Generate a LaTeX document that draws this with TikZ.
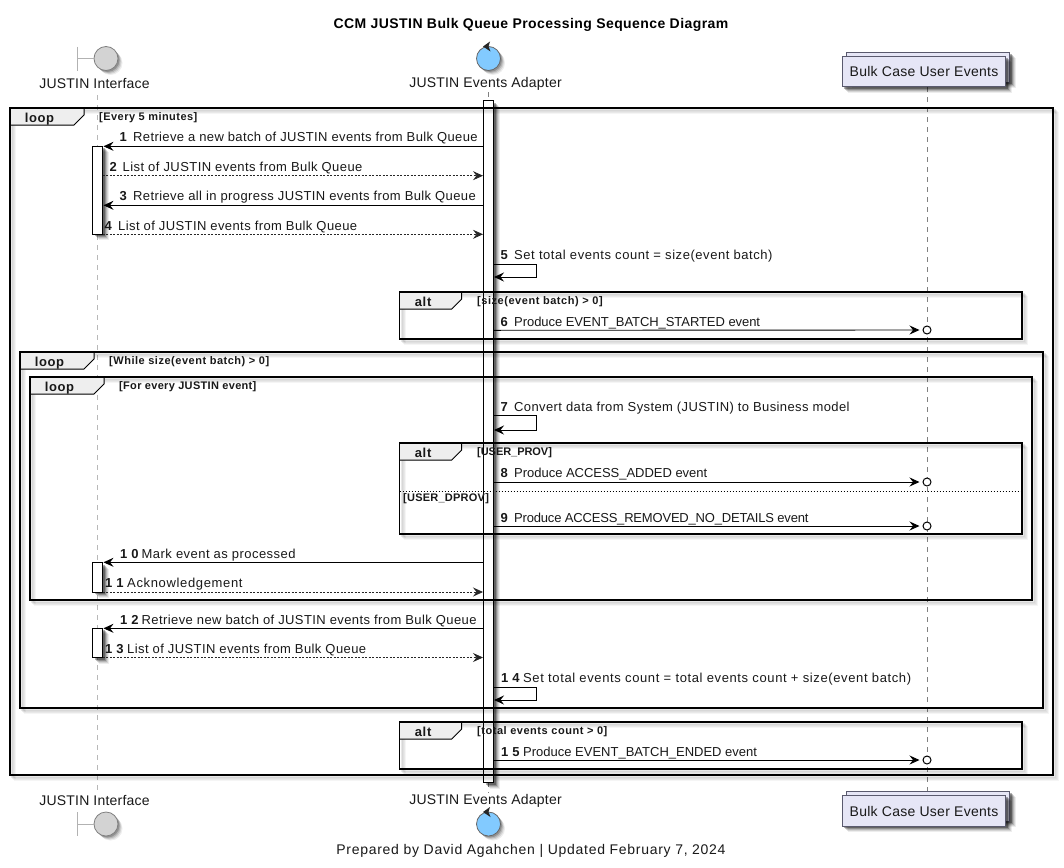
\documentclass[tikz,border=0pt]{standalone}
\usepackage{fontspec}
\setmainfont{Liberation Sans}
\usetikzlibrary{arrows.meta,calc}
\definecolor{tabfill}{HTML}{EEEEEE}
\definecolor{partfill}{HTML}{E6E6F6}
\definecolor{partdraw}{HTML}{5A5A6E}
\definecolor{ctrlfill}{HTML}{82CAFF}
\definecolor{bndfill}{HTML}{D3D3D3}
\newcommand\ls[1]{\addfontfeature{LetterSpace=#1}}
\tikzset{
  x=1pt,y=-1pt,
  lifegray/.style={draw=black!28,line width=1pt,dash pattern=on 5pt off 5pt},
  lifedark/.style={draw=black!50,line width=.8pt,dash pattern=on 5pt off 5pt},
  msgtext/.style={font=\fontsize{13}{14}\selectfont\ls{2.5},inner sep=0pt,anchor=base west,text=black!90},
  plabel/.style={font=\fontsize{14}{15}\selectfont\ls{1.5},inner sep=0pt,text=black!90},
  guardtext/.style={font=\fontsize{11}{12}\selectfont\bfseries\ls{3.7},inner sep=0pt,anchor=base west,text=black!90},
  tablabel/.style={font=\fontsize{13}{14}\selectfont\bfseries\ls{5},inner sep=0pt,anchor=base,text=black!90},
  solidmsg/.style={draw=black,line width=.9pt,-{Stealth[length=10pt,width=9pt,inset=3.5pt]}},
  dashmsg/.style={draw=black!85,line width=.8pt,dash pattern=on 2pt off 1.5pt,-{Stealth[length=10pt,width=9pt,inset=3.5pt,sep=0pt]}},
  partbox/.style={draw=partdraw,fill=partfill,line width=.9pt,inner sep=0pt,font=\fontsize{14}{15}\selectfont\ls{2},text=black!90},
  bar/.style={draw=black,fill=white,line width=.9pt},
  endcircle/.style={circle,draw=black,fill=white,line width=1pt,minimum size=8pt,inner sep=0pt},
}
% soft shadow behind a filled rectangle
\newcommand\softrect[4]{%
  \foreach \o/\a in {6/.07,5/.1,4/.14,3/.22,2/.3}{
    \fill[black,opacity=\a] ({#1+\o},{#2+\o}) rectangle ({#3+\o},{#4+\o});}}
% soft shadow of a circle
\newcommand\softcirc[3]{%
  \foreach \o/\a in {4.5/.07,3.5/.1,2.5/.14,1.5/.2}{
    \fill[black,opacity=\a] ({#1+\o},{#2+\o}) circle (#3);}}
% combined fragment: name, x1,y1,x2,y2, tab right, tab label, guard, guard x
\newcommand\fragment[9]{%
  \foreach \o/\a in {5/.04,4/.05,3/.07,2/.09}{
    \draw[black,opacity=\a,line width=2pt] ({#2+\o},{#3+\o}) rectangle ({#4+\o},{#5+\o});}
  \fill[tabfill] (#2,#3) -- (#6,#3) -- (#6,{#3+7}) -- ({#6-10},{#3+17}) -- (#2,{#3+17}) -- cycle;
  \draw[black,line width=1pt] (#6,#3) -- (#6,{#3+7}) -- ({#6-10},{#3+17}) -- (#2,{#3+17});
  \draw[black,line width=1.7pt] (#2,#3) rectangle (#4,#5);
  \node[tablabel] (#1tab) at ({(#2+#6-15)/2},{#3+14.5}) {#7};
  \node[guardtext] (#1guard) at (#9,{#3+12.5}) {#8};
}
% message: id, style, from x, to x, y
\newcommand\mmsg[5]{%
  \coordinate (m#1a) at (#3,#5);
  \coordinate (m#1b) at (#4,#5);
  \draw[#2] (m#1a) -- (m#1b);}
% self message: id, y top, y bottom
\newcommand\selfmsg[3]{%
  \coordinate (m#1a) at (494,#2);
  \coordinate (m#1b) at (536,#2);
  \coordinate (m#1c) at (536,#3);
  \coordinate (m#1d) at (494,#3);
  \draw[solidmsg] (m#1a) -- (m#1b) -- (m#1c) -- (m#1d);}
% message label: id, x, baseline, number, x of text, text
\newcommand\mlabel[6]{%
  \node[msgtext] (n#1) at (#2,#3) {\textbf{#4}};
  \node[msgtext] (t#1) at (#5,#3) {#6};}
\begin{document}
\begin{tikzpicture}
\useasboundingbox (0,0) rectangle (1064,867);
\fill[white] (0,0) rectangle (1064,867);

\node[font=\fontsize{14}{15}\selectfont\bfseries\ls{3.1},inner sep=0pt] (title) at (531,25) {CCM JUSTIN Bulk Queue Processing Sequence Diagram};

% participant anchors and lifelines
\coordinate (ifTop) at (97,95);
\coordinate (ifBot) at (97,793);
\coordinate (adTop) at (488.5,92);
\coordinate (adBot) at (488.5,793);
\coordinate (buTop) at (927.3,87);
\coordinate (buBot) at (927.3,792);
\draw[lifegray] (ifTop) -- (ifBot);
\draw[lifedark] (adTop) -- (adBot);
\draw[lifedark] (buTop) -- (buBot);

% top participants
\coordinate (bndT) at (77,47);
\coordinate (bndB) at (77,70.5);
\coordinate (bndM) at (77,58.5);
\softcirc{106}{58.5}{12}
\node[circle,draw=black!50,fill=bndfill,line width=.8pt,minimum size=24pt,inner sep=0pt] (ifCircle) at (106,58.5) {};
\draw[black!30,line width=1pt] (bndT) -- (bndB);
\draw[black!30,line width=1pt] (bndM) -- (ifCircle.west);
\node[plabel] (ifLabel) at (94.5,83.5) {JUSTIN Interface};

\softcirc{488.5}{58.5}{12}
\node[circle,draw=black!60,fill=ctrlfill,line width=.8pt,minimum size=24pt,inner sep=0pt] (adCircle) at (488.5,58.5) {};
\fill[black!85] (483,46.5) -- (490,41.5) -- (488.5,46.5) -- (490.5,51.5) -- cycle;
\node[plabel] (adLabel) at (485.5,83.5) {JUSTIN Events Adapter};

\softrect{846}{52.3}{1009.7}{82.3}
\draw[partdraw,fill=partfill,line width=.9pt] (846,52.3) rectangle (1009.7,82.3);
\softrect{842.3}{56.3}{1005.7}{86.7}
\node[partbox,minimum width=163.4pt,minimum height=30.4pt] (buTopBox) at (924,71.5) {Bulk Case User Events};

% adapter activation
\softrect{483.5}{100.5}{493.5}{782.5}
\draw[bar] (483.5,100.5) rectangle (493.5,782.5);

% interface activations
\softrect{92.5}{146.3}{102.5}{234.3}
\draw[bar] (92.5,146.3) rectangle (102.5,234.3);
\softrect{92.5}{562.5}{102.5}{592}
\draw[bar] (92.5,562.5) rectangle (102.5,592);
\softrect{92.5}{628.3}{102.5}{657.5}
\draw[bar] (92.5,628.3) rectangle (102.5,657.5);

% fragments
\fragment{loopA}{10}{108}{1053}{775}{84}{loop}{\ls{4.2}[Every 5 minutes]}{99}
\fragment{altA}{399.5}{292}{1022}{338.7}{461.7}{alt}{\ls{4.9}[size(event batch) > 0]}{477}
\fragment{loopB}{20}{352}{1043}{708}{94}{loop}{\ls{4.7}[While size(event batch) > 0]}{109}
\fragment{loopC}{30}{377}{1032}{600}{104}{loop}{\ls{2.9}[For every JUSTIN event]}{119}
\fragment{altB}{399.5}{443}{1022}{534}{461.7}{alt}{\ls{-0.4}[USER\_PROV]}{477}
\fragment{altC}{399.5}{722}{1022}{768.7}{461.7}{alt}{\ls{4.8}[total events count > 0]}{477}
\coordinate (divA) at (399.5,491);
\coordinate (divB) at (1022,491);
\draw[black,line width=.9pt,dash pattern=on 1.5pt off 1.5pt] (divA) -- (divB);
\node[guardtext] (altBguard2) at (403,501.5) {\ls{2.2}[USER\_DPROV]};

% messages
\mmsg{1}{solidmsg}{483.5}{103.5}{146.3}
\mmsg{2}{dashmsg}{102.5}{483}{175.7}
\mmsg{3}{solidmsg}{483.5}{103.5}{205.3}
\mmsg{4}{dashmsg}{102.5}{483}{234.3}
\selfmsg{5}{264}{277}
\node[endcircle] (c6) at (927,330) {};
\coordinate (m6a) at (494,330.3);
\draw[solidmsg] (m6a) -- ([xshift=-3pt]c6.west);
\selfmsg{7}{415}{430}
\node[endcircle] (c8) at (927,482) {};
\coordinate (m8a) at (494,482);
\draw[solidmsg] (m8a) -- ([xshift=-3pt]c8.west);
\node[endcircle] (c9) at (927,526) {};
\coordinate (m9a) at (494,526);
\draw[solidmsg] (m9a) -- ([xshift=-3pt]c9.west);
\mmsg{10}{solidmsg}{483.5}{103.5}{562.3}
\mmsg{11}{dashmsg}{102.5}{483}{592}
\mmsg{12}{solidmsg}{483.5}{103.5}{628.3}
\mmsg{13}{dashmsg}{102.5}{483}{657.5}
\selfmsg{14}{687}{700}
\node[endcircle] (c15) at (927,760) {};
\coordinate (m15a) at (494,760);
\draw[solidmsg] (m15a) -- ([xshift=-3pt]c15.west);

% message labels
\mlabel{1}{119.5}{141.5}{1}{133}{\ls{2.8}Retrieve a new batch of JUSTIN events from Bulk Queue}
\mlabel{2}{109.5}{171}{2}{122.5}{\ls{3.3}List of JUSTIN events from Bulk Queue}
\mlabel{3}{119.5}{200.5}{3}{133}{\ls{3.0}Retrieve all in progress JUSTIN events from Bulk Queue}
\mlabel{4}{104.5}{230}{4}{118}{\ls{3.1}List of JUSTIN events from Bulk Queue}
\mlabel{5}{500.5}{259}{5}{514}{\ls{4.3}Set total events count = size(event batch)}
\mlabel{6}{500.5}{326}{6}{514}{\ls{-0.5}Produce EVENT\_BATCH\_STARTED event}
\mlabel{7}{500.5}{411.5}{7}{514}{\ls{3.0}Convert data from System (JUSTIN) to Business model}
\mlabel{8}{500.5}{477.5}{8}{514}{\ls{-0.2}Produce ACCESS\_ADDED event}
\mlabel{9}{500.5}{522}{9}{514}{\ls{-1.45}Produce ACCESS\_REMOVED\_NO\_DETAILS event}
\mlabel{10}{120}{558}{1 0}{141.5}{\ls{3.5}Mark event as processed}
\mlabel{11}{105}{587.5}{1 1}{127}{\ls{5}Acknowledgement}
\mlabel{12}{120}{624}{1 2}{141.5}{\ls{3.1}Retrieve new batch of JUSTIN events from Bulk Queue}
\mlabel{13}{105}{653.5}{1 3}{127}{\ls{3.1}List of JUSTIN events from Bulk Queue}
\mlabel{14}{501}{682.5}{1 4}{523}{\ls{4.8}Set total events count = total events count + size(event batch)}
\mlabel{15}{501}{756}{1 5}{523}{\ls{0}Produce EVENT\_BATCH\_ENDED event}

% bottom participants
\node[plabel] (ifLabelB) at (94.5,800.5) {JUSTIN Interface};
\coordinate (bndT2) at (77,812);
\coordinate (bndB2) at (77,836);
\coordinate (bndM2) at (77,824);
\softcirc{106}{824}{12}
\node[circle,draw=black!50,fill=bndfill,line width=.8pt,minimum size=24pt,inner sep=0pt] (ifCircleB) at (106,824) {};
\draw[black!30,line width=1pt] (bndT2) -- (bndB2);
\draw[black!30,line width=1pt] (bndM2) -- (ifCircleB.west);

\node[plabel] (adLabelB) at (485.5,800.5) {JUSTIN Events Adapter};
\softcirc{488.5}{824}{12}
\node[circle,draw=black!60,fill=ctrlfill,line width=.8pt,minimum size=24pt,inner sep=0pt] (adCircleB) at (488.5,824) {};
\fill[black!85] (483,812) -- (490,807) -- (488.5,812) -- (490.5,817) -- cycle;

\softrect{846}{791.3}{1009.7}{821.3}
\draw[partdraw,fill=partfill,line width=.9pt] (846,791.3) rectangle (1009.7,821.3);
\softrect{842.3}{795.3}{1005.7}{826}
\node[partbox,minimum width=163.4pt,minimum height=30.7pt] (buBotBox) at (924,811) {Bulk Case User Events};

\node[font=\fontsize{14}{15}\selectfont\ls{5.1},inner sep=0pt,text=black!90] (footer) at (531,850.5) {Prepared by David Agahchen | Updated February 7, 2024};
\end{tikzpicture}
\end{document}
